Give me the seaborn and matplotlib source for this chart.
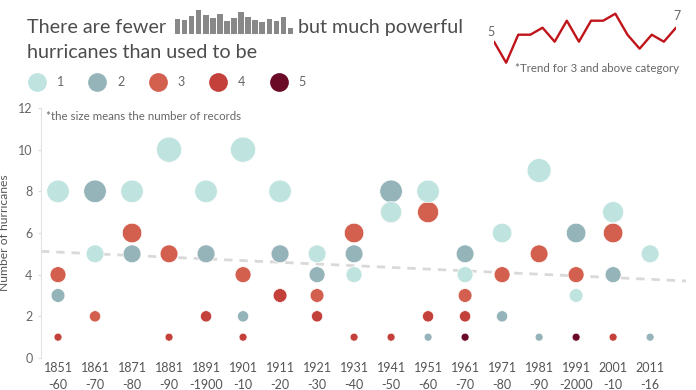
import matplotlib
matplotlib.use("Agg")
import matplotlib.pyplot as plt
from matplotlib.lines import Line2D
import seaborn as sns
import pandas as pd

# ---------------- data ----------------
decade_labels = ["1851\n-60", "1861\n-70", "1871\n-80", "1881\n-90", "1891\n-1900",
                 "1901\n-10", "1911\n-20", "1921\n-30", "1931\n-40", "1941\n-50",
                 "1951\n-60", "1961\n-70", "1971\n-80", "1981\n-90", "1991\n-2000",
                 "2001\n-10", "2011\n-16"]
decade_starts = [1851, 1861, 1871, 1881, 1891, 1901, 1911, 1921, 1931, 1941,
                 1951, 1961, 1971, 1981, 1991, 2001, 2011]

cat1_decades = [1851, 1861, 1871, 1881, 1891, 1901, 1911, 1921, 1931, 1941,
                1951, 1961, 1971, 1981, 1991, 2001, 2011]
cat1_values = [8, 5, 8, 10, 8, 10, 8, 5, 4, 7, 8, 4, 6, 9, 3, 7, 5]

cat2_decades = [1851, 1861, 1871, 1891, 1901, 1911, 1921, 1931, 1941,
                1951, 1961, 1971, 1981, 1991, 2001, 2011]
cat2_values = [3, 8, 5, 5, 2, 5, 4, 5, 8, 1, 5, 2, 1, 6, 4, 1]

cat3_decades = [1851, 1861, 1871, 1881, 1891, 1901, 1911, 1921, 1931, 1941,
                1951, 1961, 1971, 1981, 1991, 2001]
cat3_values = [4, 2, 6, 5, 5, 4, 5, 3, 6, 7, 7, 3, 4, 5, 4, 6]

cat4_decades = [1851, 1881, 1891, 1901, 1911, 1921, 1931, 1941, 1951, 1961, 2001]
cat4_values = [1, 1, 2, 1, 3, 2, 1, 1, 2, 2, 1]

cat5_decades = [1961, 1991]
cat5_values = [1, 1]

# title sparkbars (hurricanes per decade)
spark_values = [15, 14, 18, 24, 19, 16, 20, 13, 16, 22, 17, 14, 12, 15, 13, 17, 6]
# inset trend: category 3 and above, per decade
trend_values = [5, 2, 6, 6, 7, 5, 8, 5, 8, 8, 9, 6, 4, 6, 5, 7]

categories = ["1", "2", "3", "4", "5"]
colors = ["#bfe3df", "#94b4b9", "#d35f4e", "#c4403b", "#6b0a26"]
palette = dict(zip(categories, colors))

# ---------------- frame ----------------
rows = []
for cat, decs, vals in [("5", cat5_decades, cat5_values),
                        ("4", cat4_decades, cat4_values),
                        ("3", cat3_decades, cat3_values),
                        ("2", cat2_decades, cat2_values),
                        ("1", cat1_decades, cat1_values)]:
    for d, v in zip(decs, vals):
        rows.append({"x": decade_starts.index(d), "value": v, "category": cat})
df = pd.DataFrame(rows)

sns.set_theme(style="white")
plt.rcParams["font.family"] = ["Lato", "DejaVu Sans"]

W, H = 696, 390
fig = plt.figure(figsize=(W / 100, H / 100), dpi=100)

def px(x0, y0, w, h):
    return [x0 / W, 1 - (y0 + h) / H, w / W, h / H]

grey_txt = "#666666"

# ---------------- main axes ----------------
ax = fig.add_axes(px(41, 108, 645, 250))
ax.set_xlim(-0.46, 16.97)
ax.set_ylim(0, 12)

sns.regplot(data=df, x="x", y="value", scatter=False, ci=None, truncate=False,
            ax=ax, line_kws=dict(color="#d9d9d9", lw=2, ls=(0, (3, 2.5)), zorder=1))

sns.scatterplot(data=df, x="x", y="value", hue="category", palette=palette,
                size="value", sizes=(33, 330), size_norm=(1, 10),
                edgecolor="white", linewidth=0.5, alpha=1, legend=False, ax=ax, zorder=3)

ax.set_xticks(range(len(decade_labels)))
ax.set_xticklabels(decade_labels, fontsize=9, color="#555555")
for lbl in ax.get_xticklabels():
    lbl.set_linespacing(1.45)
ax.set_yticks(range(0, 13, 2))
ax.set_yticklabels([str(v) for v in range(0, 13, 2)], fontsize=9, color=grey_txt)
ax.tick_params(axis="x", length=0, pad=3)
ax.tick_params(axis="y", length=2.5, width=0.8, color="#dddddd", pad=3.5, left=True)
ax.set_xlabel("")
ax.set_ylabel("Number of hurricanes", fontsize=8.7, color="#555555")
ax.yaxis.set_label_coords((10 - 41) / 645, 0.5)
for s in ["top", "right", "bottom"]:
    ax.spines[s].set_visible(False)
ax.spines["left"].set_color("#e3e3e3")
ax.spines["left"].set_linewidth(0.8)
ax.grid(False)

fig.text(46 / W, 1 - 116 / H, "*the size means the number of records",
         fontsize=8.3, color=grey_txt, va="center", ha="left")

# ---------------- title ----------------
title_col = "#4d4d4d"
fig.text(27 / W, 1 - 33 / H, "There are fewer", fontsize=14.2, color=title_col,
         va="baseline", ha="left")
fig.text(298 / W, 1 - 33 / H, "but much powerful", fontsize=14.2, color=title_col,
         va="baseline", ha="left")
fig.text(27 / W, 1 - 58 / H, "hurricanes than used to be", fontsize=14.2,
         color=title_col, va="baseline", ha="left")

bax = fig.add_axes(px(174, 10, 120, 24))
sns.barplot(x=list(range(len(spark_values))), y=spark_values, color="#888888",
            width=0.78, saturation=1, linewidth=0, ax=bax)
bax.set_ylim(0, max(spark_values))
bax.set_xlim(-0.5, len(spark_values) - 0.5)
bax.axis("off")

# ---------------- legend ----------------
handles = [Line2D([], [], marker="o", linestyle="", markersize=13.5,
                  markerfacecolor=c, markeredgecolor="none") for c in colors]
fig.legend(handles, categories, loc="center left",
           bbox_to_anchor=(27.5 / W, 1 - 82 / H), ncol=5, frameon=False,
           handlelength=1.5, handletextpad=0.85, columnspacing=1.9,
           borderpad=0, borderaxespad=0, fontsize=9, labelcolor=grey_txt)

# ---------------- inset trend ----------------
iax = fig.add_axes(px(494, 6.7, 182, 63))
tx = list(range(len(trend_values)))
sns.lineplot(x=tx, y=trend_values, color="#c0141b", lw=1.7, ax=iax)
iax.set_xlim(0, len(trend_values) - 1)
iax.set_ylim(1, 10)
iax.axis("off")
iax.annotate(str(trend_values[0]), (tx[0], trend_values[0]), xytext=(-2, 3),
             textcoords="offset points", ha="center", va="bottom",
             fontsize=9, color=grey_txt, annotation_clip=False)
iax.annotate(str(trend_values[-1]), (tx[-1], trend_values[-1]), xytext=(1, 4),
             textcoords="offset points", ha="center", va="bottom",
             fontsize=9, color=grey_txt, annotation_clip=False)
fig.text(515 / W, 1 - 68 / H, "*Trend for 3 and above category", fontsize=8.3,
         color=grey_txt, va="center", ha="left")

fig.savefig("out.png", dpi=100)
